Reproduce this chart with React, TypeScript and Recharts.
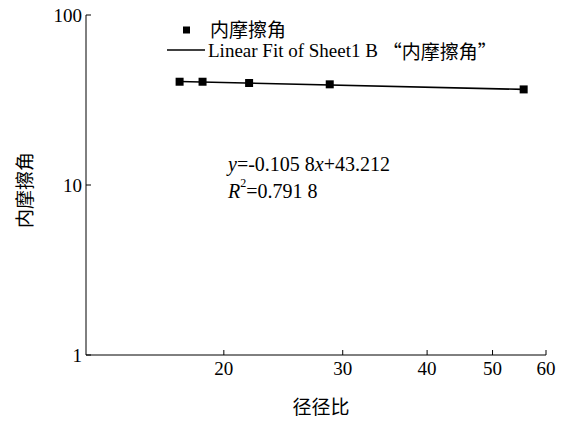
import React from 'react';
import { ComposedChart, Scatter, XAxis, YAxis, Customized } from 'recharts';

const ratios = [17.2, 18.6, 21.8, 28.7, 55.6];
const frictionAngles = [40.5, 40.5, 39.8, 39.1, 36.5];
const fitX = [17.2, 55.6];
const fitY = [40.6, 36.5];
const xTicks = [20, 30, 40, 50, 60];
const yTicks = [1, 10, 100];

const points = ratios.map((x, i) => ({ x, y: frictionAngles[i] }));
const fitLine = fitX.map((x, i) => ({ x, y: fitY[i] }));

const serif = "'Liberation Serif', 'Noto Sans CJK SC', serif";
const cjk = "'Noto Sans CJK SC', serif";

function renderXTick(props: any) {
  const { x, y, payload } = props;
  return (
    <text key={`xt-${payload.value}`} x={x} y={y + 6} textAnchor="middle" dominantBaseline="hanging" style={{ fontFamily: serif, fontSize: 19 }} fill="#000">
      {payload.value}
    </text>
  );
}

function renderYTick(props: any) {
  const { x, y, payload } = props;
  return (
    <text key={`yt-${payload.value}`} x={x} y={y} textAnchor="end" dominantBaseline="central" style={{ fontFamily: serif, fontSize: 19 }} fill="#000">
      {payload.value}
    </text>
  );
}

const Overlay = () => (
  <g>
    <rect x={183} y={26.5} width={7} height={7} fill="#000" />
    <text x={210} y={30.5} dominantBaseline="central" fontSize={19} fontFamily={serif} fill="#000">内摩擦角</text>
    <line x1={167} y1={50} x2={205} y2={50} stroke="#000" strokeWidth={1.5} />
    <text x={208} y={50} dominantBaseline="central" fontSize={19} fontFamily={serif} fill="#000">
      Linear Fit of Sheet1 B <tspan fontFamily={cjk}>“内摩擦角”</tspan>
    </text>
    <text x={228} y={164} dominantBaseline="central" fontSize={20} fontFamily={serif} fill="#000">
      <tspan fontStyle="italic">y</tspan>=-0.105 8<tspan fontStyle="italic">x</tspan>+43.212
    </text>
    <text x={228} y={191} dominantBaseline="central" fontSize={20} fontFamily={serif} fill="#000">
      <tspan fontStyle="italic">R</tspan><tspan fontSize={12} dy={-8}>2</tspan><tspan dy={8}>=0.791 8</tspan>
    </text>
    <text x={321} y={407} textAnchor="middle" dominantBaseline="central" fontSize={19} fontFamily={serif} fill="#000">径径比</text>
    <text x={25} y={190} textAnchor="middle" dominantBaseline="central" fontSize={19} fontFamily={serif} fill="#000" transform="rotate(-90 25 190)">内摩擦角</text>
  </g>
);

export default function App() {
  return (
    <div style={{ position: 'absolute', left: 0, top: 0, background: '#fff' }}>
      <ComposedChart width={563} height={421} margin={{ top: 15, right: 17, bottom: 0, left: 0 }}>
        <XAxis
          dataKey="x"
          type="number"
          scale="log"
          domain={[12.5, 60]}
          ticks={xTicks}
          allowDataOverflow
          height={66}
          stroke="#000"
          tickSize={-5}
          tickMargin={5}
          tick={renderXTick}
        />
        <YAxis
          dataKey="y"
          type="number"
          scale="log"
          domain={[1, 100]}
          ticks={yTicks}
          allowDataOverflow
          width={86}
          stroke="#000"
          tickSize={-5}
          tickMargin={9}
          tick={renderYTick}
        />
        <Scatter
          data={fitLine}
          line={{ stroke: '#000', strokeWidth: 1.6 }}
          shape={() => <g />}
          isAnimationActive={false}
        />
        <Scatter data={points} fill="#000" shape="square" isAnimationActive={false} />
        <Customized component={Overlay} />
      </ComposedChart>
    </div>
  );
}
